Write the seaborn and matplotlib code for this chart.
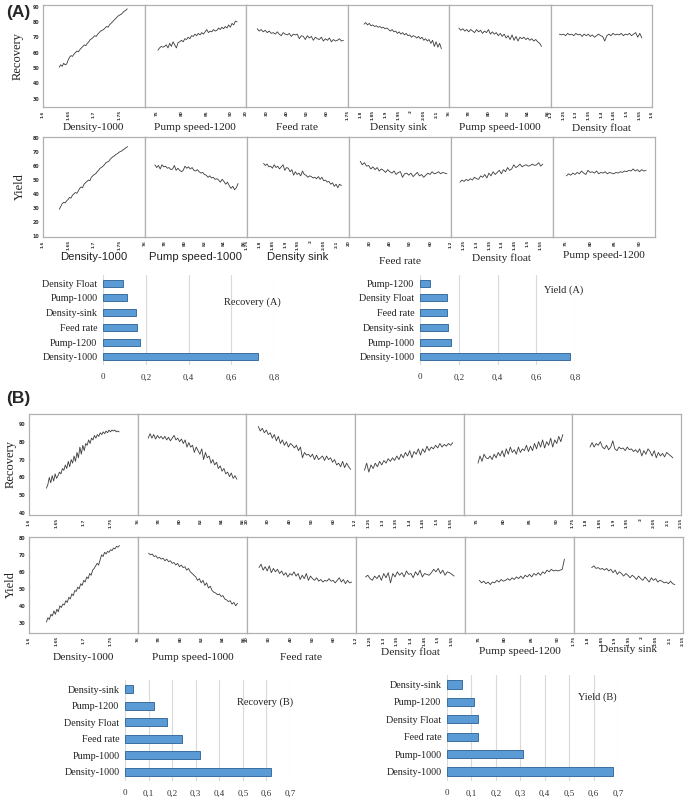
import numpy as np
import pandas as pd
import seaborn as sns
import matplotlib.pyplot as plt

sns.set_style('white')
plt.rcParams['font.family'] = ['DejaVu Sans']

W, H = 685, 802
SERIF = 'Liberation Serif'
SANS = 'Liberation Sans'

# ---- profiler traces ----
# Recovery (A)
rec_a_d1000 = [50.5, 52, 51, 53, 52, 52.5, 55, 57, 58, 57.5, 59, 60, 61, 60.5, 62, 63, 64, 65, 64.5, 66, 67,
               68.5, 69, 70, 71, 70.5, 72, 73, 74, 74.5, 75, 76, 77, 76.5, 78, 79, 80, 81, 82, 83, 84, 84.5,
               85, 86, 87, 87.5, 88.5]
rec_a_p1200 = [61.5, 63, 64, 63.5, 64, 65, 63, 66, 64, 67, 65, 63, 66.5, 67, 68, 67, 69, 68.5, 70, 69, 71, 70.5,
               72, 71, 72.5, 71.5, 73, 72, 73.5, 75, 73, 74, 73.5, 75, 74, 74.5, 76, 75, 76.5, 75.5, 77, 76,
               78, 76.5, 79, 78, 80.5, 80]
rec_a_feed = [75.5, 74, 75, 73.5, 74.5, 73, 74, 72.5, 73, 72, 73.5, 72, 71, 73, 72, 71.5, 72.5, 70.5, 72, 71.5,
              72, 69, 71, 70.5, 68.5, 71, 69.5, 70.5, 68, 70, 69, 68.5, 70, 67.5, 69, 68, 69.5, 67, 68.5, 67.5,
              68, 69, 67.5, 68]
rec_a_dsink = [78.5, 79.5, 78, 79, 77.5, 78, 77, 77.5, 76.5, 77, 76, 76.5, 75.5, 76, 75, 74, 75, 73.5, 74, 72.5,
               73.5, 72, 73, 71.5, 72.5, 71, 71.5, 70, 71, 70.5, 69.5, 70.5, 69, 70, 68, 69, 67.5, 68.5, 66, 68,
               64, 67, 63.5, 66, 62.5]
rec_a_p1000 = [76, 74.5, 75.5, 74, 75, 73.5, 75, 74, 73, 75, 73.5, 74.5, 72.5, 74, 73, 75, 72, 73.5, 72, 73, 71,
               72.5, 70.5, 72, 69.5, 71, 68.5, 71.5, 68, 70.5, 67.5, 70, 69, 70, 68.5, 69.5, 68, 69, 67.5, 68.5,
               67, 66, 64]
rec_a_dfloat = [72, 71.5, 72, 71, 72.5, 71.5, 72, 71, 72.5, 71.5, 72, 70.5, 72, 71, 72, 70.5, 71.5, 70, 71, 72, 71,
                70.5, 67.5, 71, 72, 71, 72.5, 71.5, 72, 71.5, 72.5, 71, 72, 71.5, 72.5, 71, 72, 73, 70, 72.5, 69.5]

# Yield (A)
yld_a_d1000 = [29, 31, 33, 34, 33.5, 35, 36, 37.5, 37, 39, 40, 41, 40.5, 42, 44, 45, 44.5, 47, 48, 49, 50, 49.5,
               52, 53, 54, 54.5, 56, 57, 58.5, 59, 60, 61, 62.5, 63, 63.5, 65, 66, 67, 67.5, 68.5, 69, 70, 70.5,
               71, 72, 72.5, 73.5, 74]
yld_a_p1000 = [61, 59, 60.5, 58, 61, 59.5, 60, 58.5, 59, 57.5, 58, 60.5, 57, 58.5, 57, 56, 57, 60, 58.5, 59.5, 58,
               59, 57, 56.5, 57.5, 56, 55, 55.5, 54, 53.5, 52, 53, 51.5, 52, 50.5, 51, 50, 48.5, 50.5, 49, 47,
               48.5, 46, 44, 45.5, 43, 44.5, 47.5]
yld_a_dsink = [62, 60.5, 61.5, 59.5, 60, 58.5, 61, 59, 60, 58, 59.5, 61, 57, 59, 58.5, 56, 57.5, 53.5, 56, 54, 55,
               53, 56.5, 54, 53.5, 52, 53, 52.5, 51.5, 52, 51, 52.5, 50.5, 52, 49.5, 50, 48.5, 49, 47, 48, 45.5,
               47, 44.5, 47, 46]
yld_a_feed = [63.5, 61, 62.5, 60, 60.5, 58, 59.5, 57.5, 59, 56.5, 58, 57, 55.5, 57.5, 56, 55, 56.5, 54, 55.5, 56,
              52, 54.5, 55, 53.5, 55, 52.5, 54, 55.5, 53, 54, 52, 53.5, 55, 54, 56, 54.5, 55, 56, 54.5, 55.5, 55,
              54.5]
yld_a_dfloat = [48.5, 50, 49, 50.5, 49.5, 51, 50, 52, 51, 50.5, 53, 52, 54, 51.5, 55, 53, 56, 54, 55.5, 57, 54.5,
                57.5, 56, 59, 57, 58, 61, 59, 60, 61.5, 59.5, 60.5, 61, 60, 60.5, 61.5, 60.5, 61, 62.5, 60, 61.5]
yld_a_p1200 = [53, 54.5, 53.5, 55, 54, 55.5, 54.5, 56.5, 55, 54, 57, 55.5, 56, 55, 56.5, 54.5, 55.5, 55, 56, 54.5,
               55.5, 55, 54.5, 55.5, 55, 56, 55.5, 56.5, 56, 57, 56.5, 58, 56.5, 57.5, 56, 57.5, 56.5, 57]

# Recovery (B)
rec_b_d1000 = [54, 56, 60, 57, 61, 58, 62, 59.5, 61, 63, 62, 65, 64, 67, 65, 69, 66, 70, 68, 72, 69, 74, 71, 77,
               73, 78, 75, 79, 78, 81, 79, 82, 81, 83.5, 82, 84, 83, 85, 84, 85.5, 84.5, 86, 85, 86.5, 85.5, 86.5,
               86, 86.5, 85.5, 86, 85.5]
rec_b_p1000 = [82, 84.5, 82, 84, 81.5, 83.5, 82, 83, 81.5, 83, 81, 82.5, 80.5, 82, 83.5, 81, 82, 80, 81.5, 79, 81,
               77, 79.5, 77, 78, 74, 77, 75, 73, 76, 70, 74, 71, 72, 68, 70, 67, 68.5, 65, 66.5, 63.5, 65, 62,
               63, 60.5, 62.5, 59.5, 61, 59]
rec_b_feed = [88.5, 86, 87.5, 85, 86.5, 84, 85, 82, 84, 80.5, 83, 79, 81, 78, 80, 77, 79, 78, 76.5, 78, 75, 77,
              71, 74, 72.5, 73, 71.5, 73, 70, 72.5, 70, 71, 72, 69.5, 72, 70, 71, 68.5, 70, 67, 68, 66, 69, 65.5,
              68, 66, 64.5]
rec_b_dfloat = [64, 68, 63, 67, 65, 68, 66, 69, 67, 69.5, 68, 70.5, 69, 71, 69.5, 72, 70, 73, 71, 74, 72, 75, 71,
                74.5, 73, 76, 72.5, 76, 74, 77.5, 75, 77, 76, 78, 76.5, 79, 77, 78.5, 77.5, 79, 78, 79.5]
rec_b_p1200 = [68, 72, 69, 73, 71, 70.5, 72, 70, 73, 71, 74, 72, 75, 71.5, 76, 73, 77, 74, 75.5, 73, 77, 74, 76,
               75, 78, 74.5, 77.5, 75, 79, 76, 80, 77, 81, 76.5, 80, 78, 82, 77, 81, 79, 83, 80, 84]
rec_b_dsink = [77, 79.5, 77, 79, 78, 80, 77, 76, 78, 75.5, 77, 80.5, 76, 75, 77, 76, 76.5, 75, 77, 75.5, 76, 74.5,
               75.5, 74, 76, 72, 75, 73, 76, 74.5, 72, 75, 71, 74, 72, 73.5, 71.5, 74, 73, 72, 71]

# Yield (B)
yld_b_d1000 = [30.5, 33, 32, 35, 34, 37, 35, 38, 36.5, 40, 39, 41, 40.5, 43, 42, 45, 44, 47, 46, 49, 48.5, 51, 50,
               53, 52, 55, 54, 57, 56, 59, 58, 61, 62, 63.5, 65, 64, 67, 70, 69, 71.5, 70.5, 72, 71.5, 73, 72.5,
               74, 73.5, 75, 74.5, 75.5]
yld_b_p1000 = [71, 70, 70.5, 69, 69.5, 68, 68.5, 67.5, 68, 66.5, 67.5, 66, 66.5, 65, 65.5, 64, 65, 63, 64, 62.5,
               63, 61, 62, 60, 59, 58, 57, 55, 56, 53.5, 55, 52, 53.5, 50.5, 51.5, 49, 48, 47.5, 46.5, 47, 45.5,
               46, 44, 43.5, 42.5, 43, 41, 42, 40, 41.5]
yld_b_feed = [62.5, 64.5, 61, 63, 60.5, 63.5, 59.5, 62, 60, 61.5, 59, 60.5, 58, 59.5, 57, 59, 58, 60, 57.5, 59,
              55.5, 58, 56, 59, 55, 57.5, 56, 55, 56.5, 54.5, 55.5, 54, 55, 54.5, 56, 54.5, 55, 53.5, 55, 56.5,
              54, 55.5, 53, 55, 53.5, 54]
yld_b_dfloat = [57, 58, 56, 55, 57.5, 56, 58, 55, 59, 56.5, 59.5, 53.5, 59, 57, 60, 58, 59.5, 57, 60.5, 58.5, 59,
                56.5, 60, 58, 61, 57, 59, 58.5, 58, 59.5, 61.5, 60, 62, 59, 61, 58, 60, 59.5, 58.5, 57.5]
yld_b_p1200 = [55, 53.5, 54.5, 53, 54, 52.5, 54, 53.5, 55, 54, 55.5, 54.5, 55, 56, 55, 56.5, 55.5, 57, 56, 57.5,
               56, 58, 57, 58.5, 57, 59, 58, 59.5, 58, 60, 59, 61, 60, 61.5, 60.5, 61, 60.5, 61, 61.5, 67.5]
yld_b_dsink = [62.5, 63.5, 62, 62.5, 61.5, 62, 61, 62, 60.5, 61.5, 59.5, 61, 58.5, 60, 59, 57.5, 59, 58, 56.5, 58,
               57, 55.5, 57.5, 56, 55, 57, 55.5, 54, 56.5, 55, 56, 54, 55, 54.5, 53.5, 54, 53, 54.5, 53, 52.5]

# factor sweep range, axis limits and ticks
factors = {
    'd1000': dict(span=(1.632, 1.766), xlim=(1.6, 1.8), ticks=[1.6, 1.65, 1.7, 1.75, 1.8]),
    'p1200': dict(span=(75.2, 91.2), xlim=(72.5, 93), ticks=[75, 80, 85, 90]),
    'feed': dict(span=(25.5, 68), xlim=(20, 70), ticks=[20, 30, 40, 50, 60, 70]),
    'dsink': dict(span=(1.815, 2.12), xlim=(1.75, 2.15),
                  ticks=[1.75, 1.8, 1.85, 1.9, 1.95, 2, 2.05, 2.1, 2.15]),
    'p1000': dict(span=(77, 85.4), xlim=(76, 86.3), ticks=[76, 78, 80, 82, 84, 86]),
    'dfloat': dict(span=(1.235, 1.56), xlim=(1.2, 1.6),
                   ticks=[1.2, 1.25, 1.3, 1.35, 1.4, 1.45, 1.5, 1.55, 1.6]),
}

# ---- bar chart data ----
rec_a_cats = ['Density Float', 'Pump-1000', 'Density-sink', 'Feed rate', 'Pump-1200', 'Density-1000']
rec_a_vals = [0.094, 0.113, 0.156, 0.16, 0.173, 0.727]
yld_a_cats = ['Pump-1200', 'Density Float', 'Feed rate', 'Density-sink', 'Pump-1000', 'Density-1000']
yld_a_vals = [0.05, 0.14, 0.14, 0.145, 0.16, 0.775]
rec_b_cats = ['Density-sink', 'Pump-1200', 'Density Float', 'Feed rate', 'Pump-1000', 'Density-1000']
rec_b_vals = [0.035, 0.125, 0.18, 0.24, 0.32, 0.62]
yld_b_cats = ['Density-sink', 'Pump-1200', 'Density Float', 'Feed rate', 'Pump-1000', 'Density-1000']
yld_b_vals = [0.06, 0.11, 0.125, 0.125, 0.31, 0.68]

fig = plt.figure(figsize=(W / 100, H / 100), dpi=100)


def px_axes(x0, y0, x1, y1):
    return fig.add_axes([x0 / W, 1 - y1 / H, (x1 - x0) / W, (y1 - y0) / H])


def fmt(v):
    return f'{v:g}'


def profiler_row(x0, x1, y0, y1, traces, ylim, yticks, ylabel, ylab_x, names=None, name_y=None, name_fonts=None):
    w = (x1 - x0) / len(traces)
    for i, (key, vals) in enumerate(traces):
        f = factors[key]
        ax = px_axes(x0 + i * w, y0, x0 + (i + 1) * w, y1)
        xs = np.linspace(f['span'][0], f['span'][1], len(vals))
        sns.lineplot(x=xs, y=vals, ax=ax, color='#3c3c3c', linewidth=0.6)
        ax.set_xlim(*f['xlim'])
        ax.set_ylim(*ylim)
        ticks = f['ticks']
        # right-edge label is left to the neighbouring panel
        if i < len(traces) - 1 and ticks[-1] >= f['xlim'][1]:
            ticks = ticks[:-1]
        ax.set_xticks(ticks)
        ax.set_xticklabels([fmt(t) for t in ticks], rotation=90, fontsize=3.0, fontweight='bold')
        ax.tick_params(axis='x', length=1.5, width=0.4, pad=0.8, colors='#333333')
        ax.set_yticks(yticks)
        if i == 0:
            ax.set_yticklabels([fmt(t) for t in yticks], fontsize=3.4, fontweight='bold')
            ax.tick_params(axis='y', length=1.5, width=0.4, pad=1, colors='#333333')
        else:
            ax.tick_params(axis='y', left=False, labelleft=False)
        for s in ax.spines.values():
            s.set_color('#b0b0b0')
            s.set_linewidth(0.9)
        ax.set_xlabel('')
        ax.set_ylabel('')
        if names:
            fig.text((x0 + (i + 0.5) * w) / W, 1 - name_y[i] / H, names[i], ha='center', va='center',
                     fontsize=8.2, family=name_fonts[i], color='#222222')
    fig.text(ylab_x / W, 1 - (y0 + y1) / 2 / H, ylabel, rotation=90, ha='center', va='center',
             fontsize=9, family=SERIF, color='#222222')


def bar_panel(x0, x1, y0, y1, cats, vals, xmax, step, title, tpos):
    ax = px_axes(x0, y0, x1, y1)
    df = pd.DataFrame({'factor': cats, 'value': vals})
    sns.barplot(data=df, x='value', y='factor', orient='h', ax=ax, color='#5b9bd5', saturation=1,
                edgecolor='#3b6f9f', linewidth=0.7, width=0.48)
    ax.set_xlim(0, xmax)
    ax.set_ylim(5.55, -0.55)
    ticks = np.arange(0, xmax + step / 2, step)
    ax.set_xticks(ticks)
    ax.set_xticklabels([fmt(round(t, 2)).replace('.', ',') for t in ticks], fontsize=6.5, family=SERIF,
                       color='#333333')
    ax.set_yticklabels(cats, fontsize=7.3, family=SERIF, color='#222222')
    ax.xaxis.grid(True, color='#d9d9d9', linewidth=0.8)
    ax.set_axisbelow(True)
    ax.tick_params(length=0, pad=4)
    ax.tick_params(axis='x', pad=6)
    for s in ax.spines.values():
        s.set_visible(False)
    ax.set_xlabel('')
    ax.set_ylabel('')
    fig.text(tpos[0] / W, 1 - tpos[1] / H, title, ha='center', va='center', fontsize=7.5, family=SERIF,
             color='#222222')


# ---- panel (A) ----
fig.text(6 / W, 1 - 13 / H, '(A)', ha='left', va='center', fontsize=12.5, fontweight='bold', family=SANS)
profiler_row(43, 652, 5, 107,
             [('d1000', rec_a_d1000), ('p1200', rec_a_p1200), ('feed', rec_a_feed),
              ('dsink', rec_a_dsink), ('p1000', rec_a_p1000), ('dfloat', rec_a_dfloat)],
             (24.5, 91), [30, 40, 50, 60, 70, 80, 90], 'Recovery', 18,
             names=['Density-1000', 'Pump speed-1200', 'Feed rate', 'Density sink', 'Pump speed-1000',
                    'Density float'],
             name_y=[128] * 6, name_fonts=[SERIF] * 6)
profiler_row(43, 655, 137, 237,
             [('d1000', yld_a_d1000), ('p1000', yld_a_p1000), ('dsink', yld_a_dsink),
              ('feed', yld_a_feed), ('dfloat', yld_a_dfloat), ('p1200', yld_a_p1200)],
             (9, 81), [10, 20, 30, 40, 50, 60, 70, 80], 'Yield', 20,
             names=['Density-1000', 'Pump speed-1000', 'Density sink', 'Feed rate', 'Density float',
                    'Pump speed-1200'],
             name_y=[257, 257, 257, 262, 258, 256], name_fonts=[SANS, SANS, SANS, SERIF, SERIF, SERIF])
bar_panel(103, 274, 275, 365, rec_a_cats, rec_a_vals, 0.8, 0.2, 'Recovery (A)', (252, 302))
bar_panel(420, 575, 275, 365, yld_a_cats, yld_a_vals, 0.8, 0.2, 'Yield (A)', (564, 290))

# ---- panel (B) ----
fig.text(6 / W, 1 - 398 / H, '(B)', ha='left', va='center', fontsize=12.5, fontweight='bold', family=SANS)
profiler_row(29, 681, 414, 515,
             [('d1000', rec_b_d1000), ('p1000', rec_b_p1000), ('feed', rec_b_feed),
              ('dfloat', rec_b_dfloat), ('p1200', rec_b_p1200), ('dsink', rec_b_dsink)],
             (39, 95.5), [40, 50, 60, 70, 80, 90], 'Recovery', 11)
profiler_row(29, 683, 537, 633,
             [('d1000', yld_b_d1000), ('p1000', yld_b_p1000), ('feed', yld_b_feed),
              ('dfloat', yld_b_dfloat), ('p1200', yld_b_p1200), ('dsink', yld_b_dsink)],
             (24, 80.5), [30, 40, 50, 60, 70, 80], 'Yield', 11,
             names=['Density-1000', 'Pump speed-1000', 'Feed rate', 'Density float', 'Pump speed-1200',
                    'Density sink'],
             name_y=[658, 658, 658, 652, 651, 650], name_fonts=[SERIF] * 6)
bar_panel(125, 290, 680, 781, rec_b_cats, rec_b_vals, 0.7, 0.1, 'Recovery (B)', (265, 702))
bar_panel(447, 618, 675, 781, yld_b_cats, yld_b_vals, 0.7, 0.1, 'Yield (B)', (597, 697))

fig.savefig('out.png', dpi=100, facecolor='white')
